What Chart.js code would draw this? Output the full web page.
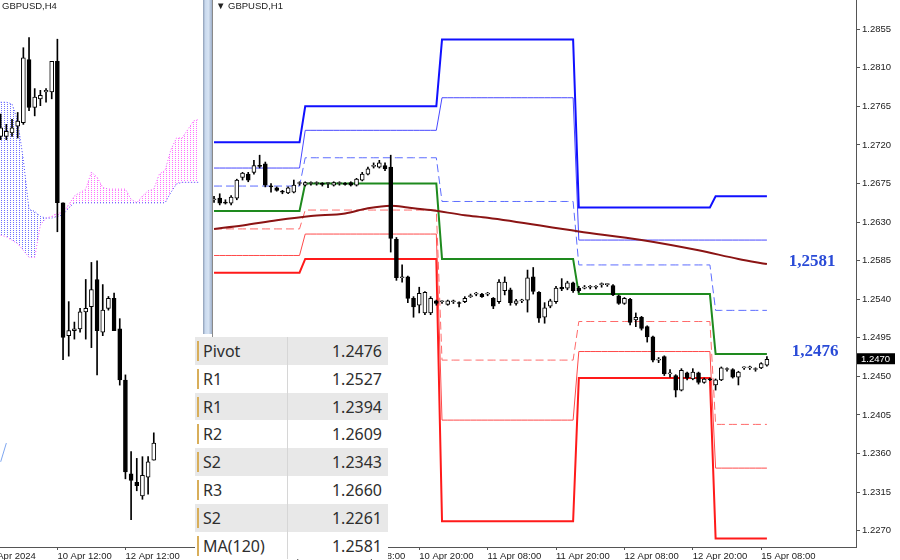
<!DOCTYPE html>
<html><head><meta charset="utf-8">
<script src="https://cdn.jsdelivr.net/npm/chart.js@4.4.1/dist/chart.umd.min.js"></script>
<style>
html,body{margin:0;padding:0;background:#fff;}
#wrap{position:relative;width:900px;height:560px;overflow:hidden;background:#fff;}
#c4{position:absolute;left:0;top:0;}
#c1{position:absolute;left:213px;top:0;}
.sep{position:absolute;left:203px;top:0;width:9px;height:334px;background:linear-gradient(to right,#8d9db5 0,#c9d9ee 25%,#d6e3f3 60%,#9fb1cc 100%);}
.bord{position:absolute;left:212px;top:0;width:1px;height:548px;background:#8a8a8a;}
.title{position:absolute;top:0px;font-family:'Liberation Sans Narrow','Liberation Sans',sans-serif;font-size:9.5px;color:#222;line-height:12px;}
#tbl{position:absolute;left:195px;top:337px;width:193px;}
.row{height:27.8px;position:relative;font-family:'Noto Sans',sans-serif;font-size:16px;color:#2e2e2e;}
.mk{position:absolute;left:2px;top:4px;width:2px;height:20px;background:#d8ae5a;}
.lb{position:absolute;left:8px;top:2px;line-height:24px;}
.vl{position:absolute;right:6px;top:2px;line-height:24px;}
.dv{position:absolute;left:92px;top:0;width:1px;height:100%;background:#d6d6d6;}
</style></head>
<body><div id="wrap">
<canvas id="c4" width="203" height="560"></canvas>
<canvas id="c1" width="687" height="560"></canvas>
<div class="sep"></div>
<div class="bord"></div>
<div class="title" style="left:2px">GBPUSD,H4</div>
<div class="title" style="left:216px">&#9660; GBPUSD,H1</div>
<div id="tbl"></div>
</div>
<script>
// ---------- H1 (right panel) data ----------
const h1Open=[1.2656,1.2658,1.2653,1.2652,1.2658,1.2682,1.2686,1.2688,1.2696,1.2698,1.2672,1.2670,1.2666,1.2664,1.2665,1.2675,
1.2673,1.2675,1.2675,1.2675,1.2675,1.2673,1.2675,1.2675,1.2676,1.2673,1.2679,1.2686,1.2695,1.2694,1.2696,1.2694,1.2610,1.2565,1.2566,1.2541,1.2533,1.2524,1.2524,1.2538,
1.2537,1.2534,1.2537,1.2536,1.2537,1.2543,1.2546,1.2546,1.2546,1.2541,1.2537,1.2550,1.2551,1.2535,1.2538,1.2539,1.2566,1.2548,1.2519,1.2532,1.2537,1.2554,1.2553,1.2559,
1.2553,1.2553,1.2554,1.2554,1.2557,1.2557,1.2556,1.2544,1.2535,1.2540,1.2516,1.2519,1.2508,1.2496,1.2469,1.2473,1.2453,1.2451,1.2434,1.2454,1.2447,1.2454,1.2443,1.2447,
1.2440,1.2446,1.2458,1.2458,1.2449,1.2460,1.2460,1.2458,1.2460,1.2463];
const h1High=[1.2660,1.2663,1.2656,1.2661,1.2680,1.2688,1.2688,1.2702,1.2708,1.2700,1.2675,1.2671,1.2667,1.2671,1.2679,1.2677,
1.2677,1.2677,1.2677,1.2676,1.2676,1.2677,1.2677,1.2676,1.2677,1.2681,1.2688,1.2694,1.2699,1.2702,1.2699,1.2708,1.2612,1.2580,1.2567,1.2543,1.2554,1.2549,1.2543,1.2539,
1.2538,1.2539,1.2539,1.2537,1.2543,1.2546,1.2548,1.2547,1.2548,1.2542,1.2563,1.2566,1.2553,1.2540,1.2540,1.2574,1.2577,1.2549,1.2536,1.2540,1.2555,1.2564,1.2561,1.2560,
1.2555,1.2556,1.2556,1.2556,1.2559,1.2558,1.2557,1.2545,1.2542,1.2541,1.2524,1.2520,1.2509,1.2497,1.2472,1.2474,1.2458,1.2452,1.2459,1.2455,1.2459,1.2455,1.2448,1.2448,
1.2447,1.2461,1.2460,1.2459,1.2456,1.2461,1.2462,1.2460,1.2466,1.2473];
const h1Low=[1.2653,1.2650,1.2651,1.2650,1.2656,1.2679,1.2677,1.2686,1.2693,1.2671,1.2665,1.2666,1.2663,1.2663,1.2664,1.2673,
1.2672,1.2673,1.2673,1.2672,1.2670,1.2672,1.2673,1.2673,1.2672,1.2672,1.2678,1.2685,1.2693,1.2693,1.2690,1.2595,1.2562,1.2560,1.2536,1.2519,1.2524,1.2522,1.2522,1.2533,
1.2535,1.2533,1.2535,1.2531,1.2536,1.2542,1.2544,1.2542,1.2544,1.2529,1.2535,1.2545,1.2533,1.2533,1.2536,1.2525,1.2546,1.2513,1.2512,1.2530,1.2535,1.2550,1.2551,1.2548,
1.2548,1.2552,1.2552,1.2552,1.2554,1.2555,1.2544,1.2534,1.2534,1.2510,1.2508,1.2504,1.2490,1.2467,1.2466,1.2451,1.2449,1.2426,1.2433,1.2446,1.2446,1.2441,1.2442,1.2445,
1.2434,1.2445,1.2456,1.2448,1.2440,1.2458,1.2458,1.2456,1.2459,1.2462];
const h1Close=[1.2657,1.2652,1.2652,1.2659,1.2679,1.2687,1.2679,1.2696,1.2695,1.2673,1.2671,1.2667,1.2665,1.2670,1.2673,1.2676,
1.2676,1.2676,1.2676,1.2674,1.2676,1.2676,1.2676,1.2674,1.2673,1.2680,1.2686,1.2692,1.2696,1.2699,1.2692,1.2611,1.2565,1.2566,1.2541,1.2531,1.2547,1.2548,1.2541,1.2535,
1.2538,1.2538,1.2538,1.2535,1.2541,1.2544,1.2547,1.2543,1.2547,1.2532,1.2560,1.2560,1.2536,1.2538,1.2539,1.2565,1.2549,1.2518,1.2530,1.2538,1.2553,1.2552,1.2559,1.2550,
1.2550,1.2554,1.2555,1.2555,1.2558,1.2558,1.2545,1.2535,1.2541,1.2513,1.2519,1.2506,1.2496,1.2469,1.2470,1.2453,1.2454,1.2434,1.2457,1.2448,1.2455,1.2443,1.2447,1.2446,
1.2446,1.2460,1.2459,1.2449,1.2455,1.2461,1.2461,1.2459,1.2465,1.2470];

// daily pivot levels (bar index ranges of each trading day)
const dayStart=[0,16,40,64,88];
const dayEnd=[15,39,63,87,97];
const levelR3=[1.2723,1.2765,1.2843,1.2647,1.2660];
const levelR2=[1.2693,1.2737,1.2775,1.2609,1.2609];
const levelR1=[1.2672,1.2705,1.2654,1.2580,1.2527];
const levelP =[1.2643,1.2675,1.2587,1.2546,1.2476];
const levelS1=[1.2622,1.2644,1.2469,1.2514,1.2394];
const levelS2=[1.2591,1.2616,1.2399,1.2479,1.2343];
const levelS3=[1.2571,1.2587,1.2281,1.2448,1.2261];

// MA(120) read at these bar indexes
const maIdx=[0,5,11,17,23,27,31,34,38,44,48,64,75,85,92,97];
const maVal=[1.2622,1.2626,1.2632,1.2637,1.2640,1.2646,1.2649,1.2647,1.2644,1.2638,1.2635,1.2619,1.2609,1.2597,1.2587,1.2581];

const priceTicks=[1.2855,1.2810,1.2765,1.2720,1.2675,1.2630,1.2585,1.2540,1.2495,1.2450,1.2405,1.2360,1.2315,1.2270];
const h1TickIdx=[12,24,36,48,60,72,84,96];
const h1TickText=['9 Apr 20:00','10 Apr 08:00','10 Apr 20:00','11 Apr 08:00','11 Apr 20:00','12 Apr 08:00','12 Apr 20:00','15 Apr 08:00'];
const lastPrice=1.2470;
const sideLabelText=['1,2581','1,2476'];
const sideLabelVal=[1.2581,1.2476];

// ---------- H4 (left panel) data ----------
const h4Open=[1.2651,1.2651,1.2653,1.2657,1.2659,1.2696,1.2668,1.2673,1.2677,1.2677,1.2695,1.2612,1.2534,1.2537,1.2538,1.2548,1.2551,1.2567,1.2536,1.2550,1.2556,1.2538,1.2508,1.2453,1.2448,1.2440,1.2451,1.2461];
const h4High=[1.2664,1.2658,1.2661,1.2665,1.2703,1.2709,1.2679,1.2678,1.2679,1.2695,1.2708,1.2612,1.2554,1.2542,1.2550,1.2567,1.2577,1.2578,1.2564,1.2557,1.2559,1.2544,1.2511,1.2466,1.2462,1.2463,1.2463,1.2477];
const h4Low=[1.2649,1.2649,1.2651,1.2650,1.2658,1.2666,1.2663,1.2669,1.2671,1.2673,1.2595,1.2520,1.2522,1.2532,1.2536,1.2532,1.2527,1.2511,1.2534,1.2549,1.2537,1.2505,1.2450,1.2426,1.2443,1.2438,1.2441,1.2461];
const h4Close=[1.2656,1.2654,1.2656,1.2660,1.2697,1.2668,1.2674,1.2675,1.2678,1.2695,1.2612,1.2533,1.2537,1.2538,1.2548,1.2550,1.2561,1.2537,1.2549,1.2556,1.2537,1.2508,1.2454,1.2449,1.2446,1.2452,1.2460,1.2471];
const spanBlue=[1.2671,1.2671,1.2670,1.2660,1.2637,1.2608,1.2607,1.2604,1.2603,1.2603,1.2604,1.2605,1.2609,1.2612,1.2612,1.2612,1.2612,1.2612,1.2612,1.2612,1.2612,1.2612,1.2612,1.2612,1.2612,1.2612,1.2612,1.2612,1.2612,1.2612,1.2618,1.2623,1.2624,1.2624,1.2624,1.2624];
const spanMagenta=[1.2593,1.2592,1.2590,1.2588,1.2584,1.2580,1.2580,1.2599,1.2603,1.2604,1.2606,1.2606,1.2611,1.2616,1.2618,1.2620,1.2630,1.2627,1.2621,1.2620,1.2620,1.2620,1.2620,1.2614,1.2612,1.2616,1.2619,1.2620,1.2629,1.2631,1.2643,1.2650,1.2650,1.2655,1.2660,1.2661];
const chikou=[1.2460,1.2471];
const h4TickIdx=[-2,10,22];
const h4TickText=['8 Apr 2024','10 Apr 12:00','12 Apr 12:00'];

// ---------- table ----------
const tblLabels=['Pivot','R1','R1','R2','S2','R3','S2','MA(120)'];
const tblValues=['1.2476','1.2527','1.2394','1.2609','1.2343','1.2660','1.2261','1.2581'];

const tbl=document.getElementById('tbl');
tblLabels.forEach((l,k)=>{
  const r=document.createElement('div');r.className='row';
  r.style.background=(k%2===0)?'#e8e8e8':'#ffffff';
  r.innerHTML='<div class="mk"></div><div class="lb">'+l+'</div><div class="dv"></div><div class="vl">'+tblValues[k]+'</div>';
  tbl.appendChild(r);
});

const axisFont={family:'Liberation Sans Narrow, Liberation Sans, sans-serif',size:9.5};
function noPad(s){s.paddingLeft=0;s.paddingRight=0;s.paddingTop=0;s.paddingBottom=0;}

// ---------- right chart ----------
function levelPoints(vals){const pts=[];vals.forEach((v,d)=>{for(let i=dayStart[d];i<=dayEnd[d];i++)pts.push({x:i,y:v});});return pts;}
function lvl(vals,color,width,dash){return {type:'line',data:levelPoints(vals),borderColor:color,borderWidth:width,borderDash:dash||[],pointRadius:0,tension:0,fill:false,order:5};}
const idx1=h1Open.map((_,i)=>i);
const overlay1={id:'overlay1',afterDraw(chart){
  const {ctx,scales:{y}}=chart;
  ctx.save();
  ctx.font='bold 17px "Liberation Serif"';ctx.fillStyle='#2a4bd7';ctx.textAlign='center';ctx.textBaseline='middle';
  const xs=[599,602];
  sideLabelText.forEach((t,k)=>ctx.fillText(t,xs[k],y.getPixelForValue(sideLabelVal[k])-2));
  const py=y.getPixelForValue(lastPrice);
  ctx.fillStyle='#000';ctx.fillRect(644,py-6,38,11);
  ctx.fillStyle='#fff';ctx.font='9.5px "Liberation Sans"';ctx.textAlign='left';ctx.fillText(lastPrice.toFixed(4),648,py);
  ctx.restore();
}};
new Chart(document.getElementById('c1'),{
  type:'bar',
  data:{datasets:[
    lvl(levelR3,'#1010ff',2),lvl(levelR2,'#4848ff',1),lvl(levelR1,'#5c6cff',1,[8,4]),
    lvl(levelP,'#1e8a1e',2),
    lvl(levelS1,'#ff6a6a',1,[8,4]),lvl(levelS2,'#ff4a4a',1),lvl(levelS3,'#ff1a1a',2),
    {type:'line',data:maIdx.map((v,k)=>({x:v,y:maVal[k]})),borderColor:'#8b1414',borderWidth:2,pointRadius:0,cubicInterpolationMode:'monotone',fill:false,order:4},
    {type:'bar',data:idx1.map(i=>({x:i,y:[h1Low[i],h1High[i]]})),backgroundColor:'#000',borderWidth:0,barThickness:1,grouped:false,order:2},
    {type:'bar',data:idx1.map(i=>({x:i,y:[h1Open[i],h1Close[i]]})),backgroundColor:idx1.map(i=>h1Close[i]>=h1Open[i]?'#fff':'#000'),borderColor:'#000',borderWidth:1,borderSkipped:false,barThickness:4,minBarLength:1,grouped:false,order:1}
  ]},
  options:{responsive:false,animation:false,events:[],layout:{padding:0},
    plugins:{legend:{display:false},tooltip:{enabled:false}},
    scales:{
      x:{type:'linear',min:-0.18,max:112.63,offset:false,bounds:'data',
        afterBuildTicks:s=>{s.ticks=h1TickIdx.map(v=>({value:v}));},
        afterFit:s=>{s.height=13;noPad(s);},
        grid:{drawOnChartArea:false,offset:false,tickLength:3,color:'#555'},
        border:{display:true,color:'#555'},
        ticks:{align:'start',padding:1,autoSkip:false,maxRotation:0,font:axisFont,color:'#222',callback:(v,i)=>h1TickText[i]}},
      y:{type:'linear',position:'right',min:1.2251,max:1.2889,bounds:'data',
        afterBuildTicks:s=>{s.ticks=priceTicks.map(v=>({value:v}));},
        afterFit:s=>{s.width=44;noPad(s);},
        grid:{drawOnChartArea:false,tickLength:4,color:'#555'},
        border:{display:true,color:'#555'},
        ticks:{padding:2,autoSkip:false,font:{family:'Liberation Sans',size:9.5},color:'#222',callback:v=>v.toFixed(4)}}
    }},
  plugins:[overlay1]
});

// ---------- left chart ----------
const c4=document.getElementById('c4');
function hatch(color){const p=document.createElement('canvas');p.width=3;p.height=2;const g=p.getContext('2d');g.fillStyle=color;g.fillRect(1,0,1,1);return c4.getContext('2d').createPattern(p,'repeat');}
const idx4=h4Open.map((_,i)=>i);
new Chart(c4,{
  type:'bar',
  data:{datasets:[
    {type:'line',data:spanBlue.map((v,j)=>({x:j,y:v})),borderColor:'#4a4aff',borderWidth:1,borderDash:[1,2],pointRadius:0,tension:0,order:6,
      fill:{target:'+1',above:hatch('#7070ff'),below:hatch('#ff70ff')}},
    {type:'line',data:spanMagenta.map((v,j)=>({x:j,y:v})),borderColor:'#ff50ff',borderWidth:1,borderDash:[1,2],pointRadius:0,tension:0,fill:false,order:6},
    {type:'line',data:chikou.map((v,j)=>({x:j,y:v})),borderColor:'#7ea6f0',borderWidth:1,pointRadius:0,tension:0,fill:false,order:5},
    {type:'bar',data:idx4.map(i=>({x:i,y:[h4Low[i],h4High[i]]})),backgroundColor:'#000',borderWidth:0,barThickness:1,grouped:false,order:2},
    {type:'bar',data:idx4.map(i=>({x:i,y:[h4Open[i],h4Close[i]]})),backgroundColor:idx4.map(i=>h4Close[i]>=h4Open[i]?'#fff':'#000'),borderColor:'#000',borderWidth:1,borderSkipped:false,barThickness:4,minBarLength:1,grouped:false,order:1}
  ]},
  options:{responsive:false,animation:false,events:[],layout:{padding:0},
    plugins:{legend:{display:false},tooltip:{enabled:false}},
    scales:{
      x:{type:'linear',min:-0.12,max:35.68,offset:false,bounds:'data',
        afterBuildTicks:s=>{s.ticks=h4TickIdx.map(v=>({value:v}));},
        afterFit:s=>{s.height=13;noPad(s);},
        grid:{drawOnChartArea:false,offset:false,tickLength:3,color:'#555'},
        border:{display:true,color:'#555'},
        ticks:{align:'start',padding:1,autoSkip:false,maxRotation:0,font:axisFont,color:'#222',callback:(v,i)=>h4TickText[i]}},
      y:{type:'linear',display:false,min:1.2410,max:1.2731,bounds:'data'}
    }}
});
</script>
</body></html>
